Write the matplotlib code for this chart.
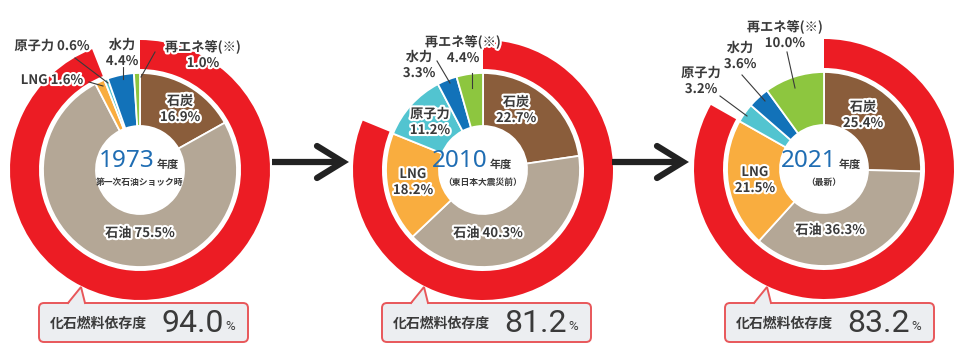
import matplotlib
matplotlib.use("Agg")
import matplotlib.pyplot as plt
from matplotlib.patches import FancyBboxPatch, Polygon
import matplotlib.patheffects as pe

# ---------------- data ----------------
years = ["1973", "2010", "2021"]
subtitles = ["第一次石油ショック時", "（東日本大震災前）", "（最新）"]
categories = ["石炭", "石油", "LNG", "原子力", "水力", "再エネ等(※)"]
shares_1973 = [16.9, 75.5, 1.6, 0.6, 4.4, 1.0]
shares_2010 = [22.7, 40.3, 18.2, 11.2, 3.3, 4.4]
shares_2021 = [25.4, 36.3, 21.5, 3.2, 3.6, 10.0]
fossil_dependence = [94.0, 81.2, 83.2]
box_label = "化石燃料依存度"

# ---------------- style ----------------
plt.rcParams["font.family"] = ["Noto Sans CJK JP", "DejaVu Sans"]
seg_colors = ["#8a5d3b", "#b4a796", "#f9ad3f", "#52c4d0", "#1272b9", "#8dc63f"]
RED = "#ec1c24"
DARK = "#3a3a3a"
BLUE = "#1f6db3"
W, H = 971, 354

fig = plt.figure(figsize=(W / 100, H / 100), dpi=100)
ax = fig.add_axes([0, 0, 1, 1])


def Y(y):
    return H - y


halo = [pe.withStroke(linewidth=3, foreground="white")]

centers = [(140, 170), (483, 170), (824, 169)]
all_shares = [shares_1973, shares_2010, shares_2021]

# label layout: (category index, one_line, x, y, leader or None)
layouts = [
    [
        (0, False, 180, 109, None),
        (1, True, 140, 233, None),
        (2, True, 52, 80, ((89, 82), (103, 86))),
        (3, True, 52, 46, ((75, 58), (108, 83))),
        (4, False, 122, 53, ((123, 66), (123, 79))),
        (5, False, 203, 55, ((155, 52), (141, 77))),
    ],
    [
        (0, False, 516, 110, None),
        (1, True, 488, 233, None),
        (2, False, 413, 182, None),
        (3, False, 430, 122, None),
        (4, False, 419, 65, ((437, 61), (450, 83))),
        (5, False, 463, 50, ((472, 73), (472, 88))),
    ],
    [
        (0, False, 863, 115, None),
        (1, True, 830, 230, None),
        (2, False, 755, 180, None),
        (3, False, 701, 81, ((720, 96), (747, 116))),
        (4, False, 740, 56, ((742, 75), (765, 101))),
        (5, False, 785, 35, ((787, 52), (795, 88))),
    ],
]
year_split = [155, 488, 837]
box_left = [39, 382, 725]

label_kw = dict(ha="center", va="center", fontsize=9.5, fontweight="bold", color=DARK,
                path_effects=halo, zorder=5)

for i, ((cx, cy), shares) in enumerate(zip(centers, all_shares)):
    # fossil ring
    fd = fossil_dependence[i]
    ax.pie([fd, 100 - fd], colors=[RED, "none"], radius=130, center=(cx, Y(cy)),
           startangle=90, counterclock=False,
           wedgeprops=dict(width=29, edgecolor="none", linewidth=0))
    # composition donut
    ax.pie(shares, colors=seg_colors, radius=97, center=(cx, Y(cy)),
           startangle=90, counterclock=False,
           wedgeprops=dict(width=53, edgecolor="white", linewidth=1.3))

    # labels
    for (k, one_line, lx, ly, leader) in layouts[i]:
        v = shares[k]
        if one_line:
            ax.text(lx, Y(ly), f"{categories[k]} {v:.1f}%", **label_kw)
        else:
            ax.text(lx, Y(ly - 8), categories[k], **label_kw)
            ax.text(lx, Y(ly + 8), f"{v:.1f}%", **label_kw)
        if leader is not None:
            (x0, y0), (x1, y1) = leader
            ax.plot([x0, x1], [Y(y0), Y(y1)], color=DARK, lw=0.8, zorder=4)

    # centre text
    ax.text(year_split[i], Y(161), years[i], ha="right", va="center", fontsize=17.5,
            color=BLUE, family=["Noto Sans", "DejaVu Sans"], fontweight="semibold", zorder=5)
    ax.text(year_split[i] + 2, Y(164), "年度", ha="left", va="center", fontsize=8,
            fontweight="bold", color=DARK, zorder=5)
    ax.text(cx, Y(182), subtitles[i], ha="center", va="center", fontsize=6.3,
            fontweight="bold", color=DARK, zorder=5)

    # dependency callout box
    bl = box_left[i]
    bw, bt, bb = 209, 303, 342
    box = FancyBboxPatch((bl, Y(bb)), bw, bb - bt,
                         boxstyle="round,pad=0,rounding_size=5",
                         facecolor="#eceef1", edgecolor="#e8575a", linewidth=1.4, zorder=6)
    ax.add_patch(box)
    tri = Polygon([(bl + 29, Y(bt) - 1.5), (bl + 42, Y(287)), (bl + 46, Y(bt) - 1.5)],
                  closed=True, facecolor="#eceef1", edgecolor="none", zorder=7)
    ax.add_patch(tri)
    ax.plot([bl + 29, bl + 42, bl + 46], [Y(bt), Y(287), Y(bt)], color="#e8575a",
            lw=1.4, zorder=7, solid_joinstyle="miter")
    ax.text(bl + 11, Y(324), box_label, ha="left", va="center", fontsize=10,
            fontweight="bold", color=DARK, zorder=8)
    ax.text(bl + 185, Y(323), f"{fd:.1f}", ha="right", va="center", fontsize=23,
            family=["Roboto", "DejaVu Sans"], color=DARK, zorder=8)
    ax.text(bl + 186, Y(326), "%", ha="left", va="center", fontsize=9.5,
            family=["Roboto", "DejaVu Sans"], color=DARK, zorder=8)

# arrows between charts
for (x0, x1) in [(272, 343), (612, 683)]:
    ax.plot([x0, x1 - 3], [Y(162), Y(162)], color="#222222", lw=4.5, solid_capstyle="butt")
    ax.plot([x1 - 26, x1, x1 - 26], [Y(146), Y(162), Y(178)], color="#222222", lw=4.5,
            solid_joinstyle="miter", solid_capstyle="round")

ax.set_xlim(0, W)
ax.set_ylim(0, H)
ax.set_aspect("equal")
ax.axis("off")
fig.savefig("out.png", dpi=100, facecolor="white")
